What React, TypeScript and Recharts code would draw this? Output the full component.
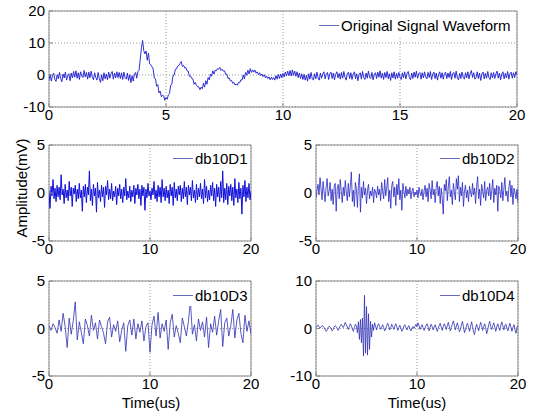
import { CartesianGrid, Line, LineChart, ReferenceArea, XAxis, YAxis } from "recharts";

// sample spacing (us) of each trace
const ORIGINAL_STEP = 0.05;
const D1_STEP = 0.1;
const D2_STEP = 0.1;
const D3_STEP = 0.2;
const D4_STEP = 0.1;

const topXTicks = [0, 5, 10, 15, 20];
const topYTicks = [-10, 0, 10, 20];
const smallXTicks = [0, 10, 20];
const detailYTicks = [-5, 0, 5];
const d4YTicks = [-10, 0, 10];

// original signal, 0..20 us
const originalSignal = [
  -1.6, 0.2, -1.9, -0.1, 0.6, -1.4, -2.0, 0.1, -1.2, 0.8, -1.1, -2.1, 0.3, -0.9, 0.9, -1.6, -0.2, 0.4, -1.8, 0.6,
  -0.9, 1.1, -0.7, 1.3, -1.0, 0.7, -1.4, 1.0, -0.3, -0.8, 1.4, -0.6, 0.8, -1.3, 0.9, -0.9, 1.2, -0.5, -1.5, 0.7,
  -0.8, -1.6, 0.8, -1.1, -2.3, 0.1, -1.8, 0.7, -1.2, 0.3, -1.5, 0.9, -1.0, 0.4, 1.1, -1.3, 0.6, -0.9, 1.0, -0.8,
  0.8, -1.1, 0.7, -1.4, 0.9, -0.8, -1.3, 0.6, -1.7, 0.1, -2.4, -0.2, -1.9, 0.3, 0.8, -1.0, 1.1, 1.5, 5.0, 8.5,
  10.8, 7.6, 6.6, 7.5, 4.6, 6.8, 3.5, 3.2, 2.6, 1.9, -1.0, -1.2, -3.5, -3.0, -5.6, -5.0, -6.8, -6.3, -6.5, -7.9,
  -7.0, -7.6, -6.2, -5.8, -3.2, -2.8, -0.2, 0.0, 1.8, 1.9, 2.8, 3.0, 3.6, 4.2, 2.7, 3.0, 2.2, 2.3, 1.3, 1.2,
  -0.4, -0.3, -1.1, -1.2, -2.9, -2.3, -3.2, -3.7, -3.7, -4.6, -3.8, -4.3, -2.6, -3.8, -1.8, -2.9, -0.8, -1.5, 0.3, -0.4,
  1.3, 0.3, 1.5, 1.3, 2.0, 1.8, 2.4, 1.4, 1.8, 1.2, 1.3, 0.2, 0.3, -1.1, -0.9, -1.8, -1.7, -2.6, -2.3, -3.1,
  -2.8, -3.2, -2.3, -2.4, -1.5, -1.6, 0.0, -1.2, 0.8, -0.1, 1.5, 0.3, 2.0, 0.8, 1.6, 0.9, 1.5, 0.6, 1.0, 0.1,
  0.7, -0.2, 0.3, -0.5, 0.1, -0.9, -0.3, -1.1, -0.6, -1.5, -0.7, -1.4, -0.8, -1.6, -0.2, -1.3, 0.2, -1.1, 0.3, -0.8,
  0.5, -0.6, 0.9, -0.3, 1.2, -0.2, 1.4, -0.3, 1.6, -0.1, 1.2, -0.4, 1.0, -0.8, 0.6, -1.1, 0.4, -1.4, 0.2, -1.6,
  -0.1, -1.9, 0.4, -1.3, 0.8, -1.1, -1.6, 0.4, -1.2, 0.9, -0.9, -1.6, 0.6, -1.0, 0.3, 1.0, -1.2, 0.2, 0.8, -1.4,
  0.3, 0.9, -1.1, 0.6, -1.5, 0.2, 1.0, -0.9, 0.5, -1.3, 0.8, -1.0, 1.1, -0.7, -1.6, 0.4, 0.9, -1.1, 0.7, -1.4,
  0.2, 1.0, -1.2, 0.4, -1.8, 0.1, 0.7, -1.3, 1.1, -0.8, -1.4, 0.6, -1.0, 1.2, -0.7, -1.1, 0.8, -1.5, 0.1, 0.7,
  -1.1, 0.9, -0.7, 1.3, -1.0, 0.6, -1.4, 0.8, -0.8, 1.1, -1.2, 0.4, -1.7, 0.7, -0.9, 1.0, -1.3, 0.5, -1.0, 0.8,
  -0.7, -1.4, 0.7, -0.9, 1.0, -1.2, 0.4, 1.1, -0.8, -1.5, 0.6, -1.1, 0.9, -0.7, 1.2, -1.0, 0.4, 0.8, -1.3, 0.7,
  -0.9, 1.0, -0.6, -1.2, 0.8, -0.8, 1.1, -1.4, 0.3, 0.9, -1.1, 0.6, -1.6, 0.2, 1.0, -1.0, 0.7, -1.3, 0.5, 0.9,
  -1.1, 0.6, -0.8, 1.1, -1.4, 0.3, 0.8, -1.0, 1.2, -0.9, -1.5, 0.5, -1.1, 0.9, -0.7, -1.3, 0.7, -0.9, 1.0, -1.2,
  0.4, 1.4, -0.8, 0.7, -1.3, -0.9, 1.0, -1.1, 0.6, -1.7, 0.3, 0.9, -1.2, 0.5, -1.0, 1.1, -0.8, -1.4, 0.7, -0.9,
  0.8, -1.1, 0.4, 1.2, -1.0, 0.6, -1.5, 0.3, 1.0, -1.2, 0.5, -0.9, 1.1, -1.3, 0.4, 0.9, -1.0, 0.7, -0.8, 1.0, 0.1,
];

const db10D1 = [
  0.2, -1.6, 0.7, -0.3, 1.4, -0.6, 0.5, -0.9, 0.8, -0.4,
  0.6, -0.7, 1.9, -0.2, 0.4, -1.1, 0.9, -0.5, 0.3, -0.8,
  1.2, -0.3, 0.6, -1.4, 0.5, -0.1, 0.8, -0.9, 0.4, -0.6,
  1.0, -0.5, 0.3, -1.9, 0.7, -0.4, 0.9, -1.0, 0.6, -0.2,
  2.3, -0.8, 0.4, -1.3, 0.9, -0.3, 0.5, -2.0, 1.1, -0.5,
  0.3, -0.9, 0.8, -0.4, 0.6, -1.5, 0.7, -0.2, 1.3, -0.7,
  0.4, -0.6, 1.0, -0.8, 0.2, -0.4, 0.7, -1.2, 0.5, -0.3,
  0.9, -0.6, 0.4, -1.0, 0.6, -0.3, 1.5, -0.7, 0.2, -0.5,
  0.7, -0.9, 0.3, -0.4, 0.8, -1.1, 0.5, -0.2, 0.9, -0.6,
  0.4, -1.3, 0.8, -0.3, 0.6, -1.8, 0.4, -0.5, 1.0, -0.3,
  0.2, -0.7, 0.5, -0.2, 1.2, -0.6, 0.3, -0.9, 0.8, -0.4,
  0.6, -1.0, 1.4, -0.4, 0.5, -0.8, 0.7, -0.5, 0.3, -1.1,
  0.9, -0.3, 0.6, -1.3, 1.1, -0.5, 0.4, -0.8, 0.7, -0.2,
  0.8, -0.9, 0.5, -0.6, 1.2, -0.4, 0.6, -1.2, 0.8, -0.2,
  0.6, -0.8, 1.3, -0.5, 0.3, -1.0, 0.9, -0.7, 0.5, -0.4,
  1.0, -0.6, 0.4, -1.1, 1.4, -0.5, 0.7, -0.9, 0.3, -0.7,
  0.8, -0.3, 1.1, -0.8, 0.5, -1.4, 0.9, -0.4, 0.6, -0.9,
  1.2, -0.5, 2.3, -1.0, 0.5, -0.7, 1.0, -1.2, 0.7, -0.3,
  0.9, -0.8, 0.6, -1.3, 1.5, -0.5, 0.4, -1.0, 1.1, -0.6,
  0.5, -2.2, 0.8, -0.4, 1.3, -0.9, 0.6, -0.5, 1.0, -0.7, 0.2,
];

const db10D2 = [
  -0.5, 0.3, 0.9, -0.2, 1.6, 0.4, -0.7, 1.2, 0.1, -0.9,
  0.6, 1.5, -0.3, 0.2, 1.1, -0.8, 0.4, -1.2, 0.7, 1.0,
  -1.9, 0.5, 0.9, -0.6, 1.4, 0.2, -1.0, 0.6, -0.3, 1.3,
  0.1, -0.8, 1.0, -0.4, 0.7, 2.2, -0.9, 0.3, -1.4, 1.1,
  0.4, -1.5, 0.8, 2.0, -2.0, 0.6, -0.5, 1.2, -0.2, 0.5,
  -1.1, 0.3, 0.9, -0.6, 0.2, -0.3, 0.6, -1.0, 0.4, 0.1,
  -0.5, 0.7, -0.2, 0.4, -0.8, 1.1, 0.2, -0.6, 1.4, -0.3,
  0.5, 1.6, -0.9, 0.3, -1.6, 0.8, 1.2, -0.4, 0.6, -1.3,
  0.9, -0.2, 1.5, -0.7, 0.3, -1.8, 1.0, 0.2, -0.5, 0.7,
  -0.3, 0.4, -0.1, 0.6, -0.6, 0.2, 0.5, -0.4, 0.1, -0.2,
  0.3, -0.5, 0.6, 0.0, -0.3, 0.4, -0.7, 0.2, 0.8, -0.4,
  0.5, -0.9, 1.0, 0.3, -0.6, 1.3, -0.2, 0.4, -1.0, 0.6,
  1.2, -0.3, 0.7, -1.1, 0.5, -0.6, -2.2, 0.9, 0.2, 1.4,
  -0.8, 0.6, 1.7, -0.4, 0.3, -1.2, 1.0, 0.1, -0.7, 1.5,
  0.4, 1.8, -0.9, 0.6, -0.3, 1.1, -1.4, 0.2, 0.8, -0.5,
  0.3, -0.9, 0.7, 0.1, -0.4, 1.0, -0.2, 0.5, -1.1, 0.6,
  1.7, -0.6, 0.4, -1.3, 0.9, 0.2, -0.5, 1.2, -0.8, 0.3,
  0.6, -0.3, 1.0, -0.7, 0.2, 1.4, -1.0, 0.5, -0.2, 0.8,
  -1.9, 0.7, 0.3, -0.5, 1.1, -0.8, 0.4, 1.6, -0.3, 0.2,
  -0.9, 0.6, 1.3, -0.4, 0.8, -1.2, 0.5, 0.1, -0.6, 0.4, -1.0,
];

const db10D3 = [
  0.3, -0.2, 0.5, 0.1, -0.5, 0.9, -0.3, 1.6, 0.2, -2.0,
  1.1, -0.6, 0.8, 2.8, -1.2, 0.7, -0.4, -1.6, 1.0, 0.3,
  -0.8, 1.4, -0.2, 0.6, -1.1, 0.9, 0.2, -0.5, -1.6, 0.7,
  1.2, -0.9, 0.4, -0.3, 0.8, -1.4, -0.2, 0.6, -2.4, 0.3,
  0.9, -0.7, 1.0, -1.1, 0.5, -0.4, 0.8, -1.3, 0.2, 0.6,
  -2.5, 0.4, 1.3, -0.8, 1.7, -1.0, 0.5, -0.3, 0.9, -2.2,
  0.6, 1.5, -0.9, 0.3, -0.5, -1.5, 1.1, 0.2, -0.8, 0.7,
  2.9, -0.6, 0.4, -1.3, 1.0, -0.2, 0.7, -0.9, 1.2, -2.0,
  0.5, -0.4, 1.3, -0.7, 0.8, 2.0, -1.9, 0.6, 1.1, -0.8,
  0.3, 2.0, -1.0, 0.9, 1.6, -0.5, -1.5, 1.4, -0.3, 0.8,
  -0.6,
];

const db10D4 = [
  0.2, 0.5, 0.7, 0.4, 0.1, 0.3, 0.6, 0.5, 0.2, -0.2,
  -0.6, -0.3, 0.2, 0.5, 0.3, -0.1, -0.5, -0.2, 0.3, 0.6,
  0.4, 0.0, -0.4, 0.1, 0.6, 0.9, 0.5, 0.2, 0.7, 1.3,
  0.8, 0.3, -0.2, 0.4, 1.0, 0.6, -0.1, -0.6, 0.2, 0.9,
  0.5, -0.9, 1.4, -2.3, 1.9, -3.0, 2.2, -5.8, 7.0, -5.2,
  4.6, -5.6, 3.1, -4.4, 1.5, -1.8, 0.9, -0.4, 1.2, 0.5,
  -0.3, 0.6, 1.0, 0.4, -0.2, 0.3, 0.8, 0.2, -0.5, -0.1,
  0.6, 1.1, 0.5, -0.3, 0.2, 0.9, 0.4, -0.2, 0.5, 1.0,
  0.3, -0.4, 0.2, 0.7, 0.1, -0.6, -0.2, 0.5, 0.8, 0.2,
  -0.3, 0.3, 0.6, -0.1, -0.5, 0.1, 0.4, 0.0, 0.5, 0.9,
  0.4, 1.2, 0.6, -0.2, 0.3, 0.8, 0.2, -0.4, 0.1, 0.7,
  1.0, 0.3, -0.5, 0.2, 0.9, 0.4, -0.3, 0.3, 0.8, 0.1,
  -0.6, 0.0, 0.7, 1.1, 0.3, -0.4, 0.4, 1.0, 0.5, -0.2,
  0.6, 1.3, 0.4, -0.5, 0.2, 0.9, 1.6, 0.7, -0.3, 0.5,
  1.2, 0.3, -0.7, -0.2, 0.8, 1.5, 0.4, -0.9, -0.3, 0.6,
  1.1, 0.2, -0.6, 0.3, 1.4, 0.5, -0.8, -1.3, 0.1, 0.9,
  0.2, -0.5, 0.4, 1.3, 0.6, -0.4, 0.3, 1.0, 0.2, -1.1,
  -0.3, 0.8, 1.5, 0.4, -0.2, 0.6, 1.2, 0.3, -0.6, 0.4,
  1.0, 0.2, -0.4, 0.7, 1.4, 0.5, -0.3, 0.6, 0.9, 0.1,
  -0.5, 0.4, 1.1, 0.3, -0.6, 0.2, 0.8, -0.2, -1.0, 0.3, 0.6,
];

const FONT = '"Liberation Sans", Arial, sans-serif';
const TICK = { fill: "#000", fontSize: 15, fontFamily: FONT };
const BOX = "#8a8a8a";

const toRows = (values: number[], step: number) =>
  values.map((v, i) => ({ t: Math.round(i * step * 1000) / 1000, v }));

// space around each plot box inside its chart
const PAD_L = 50;
const PAD_T = 14;
const PAD_R = 14;
const PAD_B = 30;

interface PanelProps {
  x: number;
  y: number;
  w: number;
  h: number;
  rows: { t: number; v: number }[];
  xTicks: number[];
  yTicks: number[];
  yDomain: [number, number];
  stroke: string;
  strokeWidth: number;
}

function Panel({ x, y, w, h, rows, xTicks, yTicks, yDomain, stroke, strokeWidth }: PanelProps) {
  return (
    <div style={{ position: "absolute", left: x - PAD_L, top: y - PAD_T }}>
      <LineChart
        width={w + PAD_L + PAD_R}
        height={h + PAD_T + PAD_B}
        data={rows}
        margin={{ top: PAD_T, right: PAD_R, left: 0, bottom: 0 }}
      >
        <CartesianGrid strokeDasharray="1 2" stroke="#9a9a9a" />
        <XAxis
          type="number"
          dataKey="t"
          domain={[0, 20]}
          ticks={xTicks}
          interval={0}
          height={PAD_B}
          tickSize={-4}
          tickMargin={6}
          axisLine={false}
          tickLine={{ stroke: BOX }}
          tick={TICK}
          allowDataOverflow
        />
        <YAxis
          type="number"
          domain={yDomain}
          ticks={yTicks}
          interval={0}
          width={PAD_L}
          tickSize={-4}
          tickMargin={8}
          axisLine={false}
          tickLine={{ stroke: BOX }}
          tick={TICK}
          allowDataOverflow
        />
        <ReferenceArea
          x1={0}
          x2={20}
          y1={yDomain[0]}
          y2={yDomain[1]}
          fill="none"
          stroke={BOX}
          strokeWidth={1}
        />
        <Line
          dataKey="v"
          type="linear"
          dot={false}
          stroke={stroke}
          strokeWidth={strokeWidth}
          isAnimationActive={false}
        />
      </LineChart>
    </div>
  );
}

function LegendTag({ x, y, w, label }: { x: number; y: number; w: number; label: string }) {
  return (
    <div
      style={{
        position: "absolute",
        left: x,
        top: y - 11,
        width: w,
        height: 22,
        background: "#fff",
        display: "flex",
        alignItems: "center",
        fontFamily: FONT,
        fontSize: 15,
        color: "#000",
        whiteSpace: "nowrap",
      }}
    >
      <div style={{ width: 20, height: 0, borderTop: "1px solid #6a6abb", marginLeft: 5, marginRight: 2 }} />
      <span>{label}</span>
    </div>
  );
}

export default function App() {
  return (
    <div style={{ position: "absolute", left: 0, top: 0, width: 534, height: 417, background: "#fff" }}>
      <Panel x={49} y={11} w={468} h={96} rows={toRows(originalSignal, ORIGINAL_STEP)}
        xTicks={topXTicks} yTicks={topYTicks} yDomain={[-10, 20]} stroke="#1a1ad0" strokeWidth={0.9} />
      <Panel x={49} y={145} w={202} h={96} rows={toRows(db10D1, D1_STEP)}
        xTicks={smallXTicks} yTicks={detailYTicks} yDomain={[-5, 5]} stroke="#1010dc" strokeWidth={1} />
      <Panel x={316} y={145} w={202} h={96} rows={toRows(db10D2, D2_STEP)}
        xTicks={smallXTicks} yTicks={detailYTicks} yDomain={[-5, 5]} stroke="#2626c4" strokeWidth={0.8} />
      <Panel x={49} y={281} w={202} h={95} rows={toRows(db10D3, D3_STEP)}
        xTicks={smallXTicks} yTicks={detailYTicks} yDomain={[-5, 5]} stroke="#3030b4" strokeWidth={0.8} />
      <Panel x={316} y={281} w={202} h={95} rows={toRows(db10D4, D4_STEP)}
        xTicks={smallXTicks} yTicks={d4YTicks} yDomain={[-10, 10]} stroke="#3030b4" strokeWidth={0.8} />

      <LegendTag x={314} y={25} w={200} label="Original Signal Waveform" />
      <LegendTag x={168} y={158} w={80} label="db10D1" />
      <LegendTag x={435} y={158} w={80} label="db10D2" />
      <LegendTag x={168} y={295} w={80} label="db10D3" />
      <LegendTag x={435} y={295} w={80} label="db10D4" />

      <div
        style={{
          position: "absolute",
          left: 21,
          top: 188,
          transform: "translate(-50%, -50%) rotate(-90deg)",
          fontFamily: FONT,
          fontSize: 15,
          whiteSpace: "nowrap",
        }}
      >
        Amplitude(mV)
      </div>
      <div style={{ position: "absolute", left: 151, top: 402, transform: "translate(-50%, -50%)", fontFamily: FONT, fontSize: 15 }}>
        Time(us)
      </div>
      <div style={{ position: "absolute", left: 417, top: 402, transform: "translate(-50%, -50%)", fontFamily: FONT, fontSize: 15 }}>
        Time(us)
      </div>
    </div>
  );
}
